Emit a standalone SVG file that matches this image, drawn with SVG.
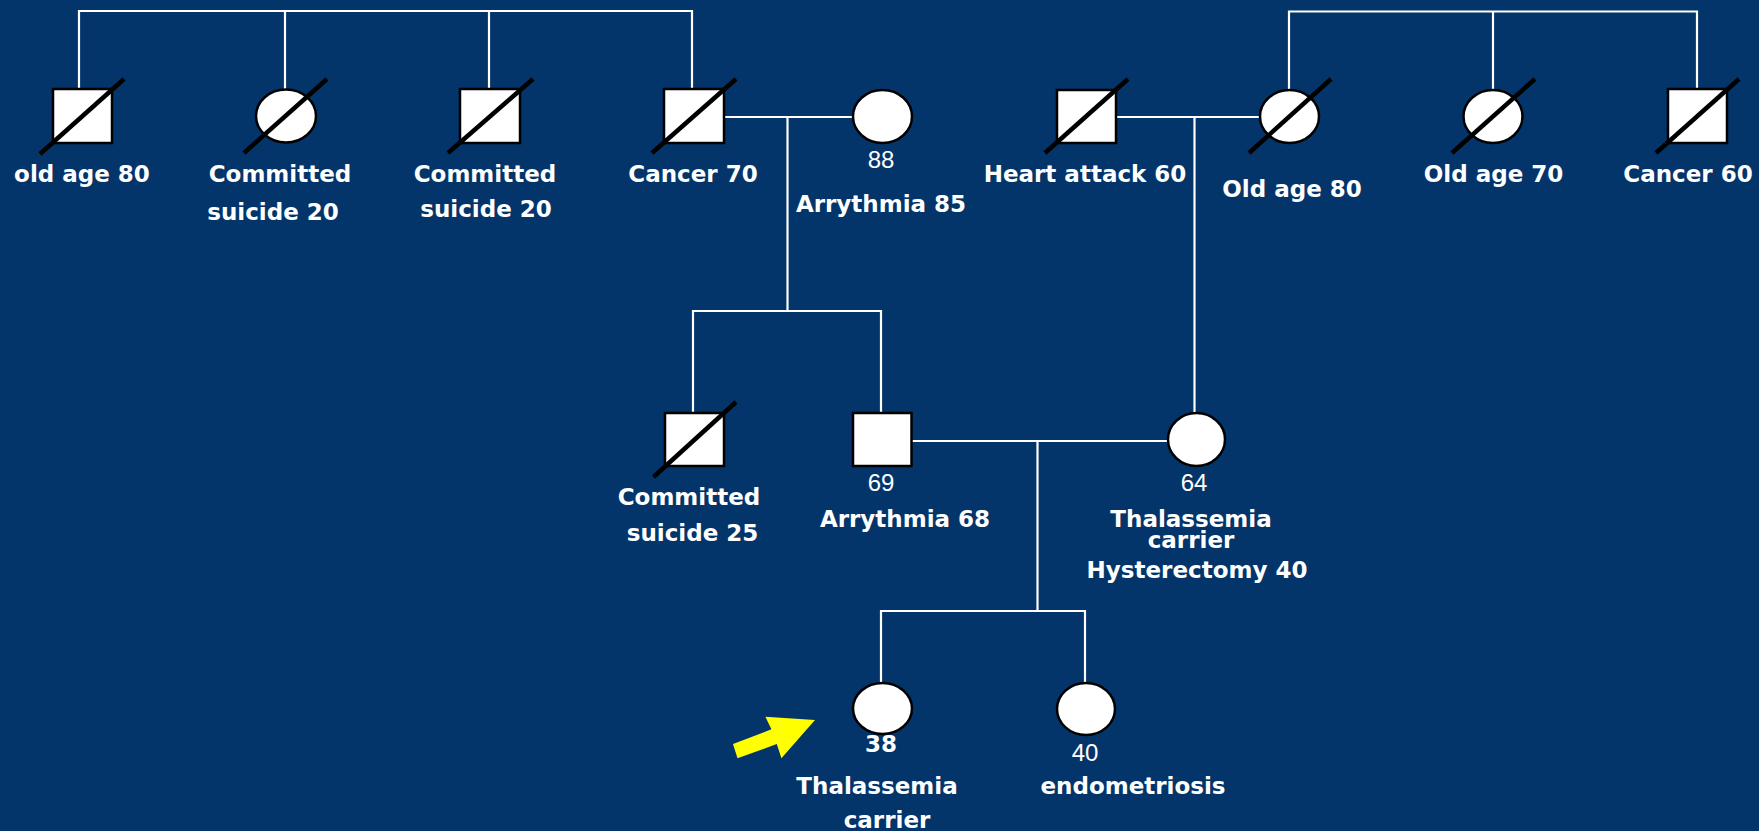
<svg xmlns="http://www.w3.org/2000/svg" width="1759" height="831" viewBox="0 0 1759 831">
  <style>
    .bg { fill: #03356a; }
    .link { stroke: #ffffff; stroke-width: 2.2; fill: none; }
    .sq { fill: #ffffff; stroke: #000000; stroke-width: 2.5; }
    .ci { fill: #ffffff; stroke: #000000; stroke-width: 2.5; }
    .dead { stroke: #000000; stroke-width: 4.5; stroke-linecap: butt; }
    .lbl { font-family: "DejaVu Sans", "Liberation Sans", sans-serif; font-weight: bold; font-size: 23px; fill: #ffffff; text-anchor: middle; }
    .age { font-family: "Liberation Sans", Arial, sans-serif; font-size: 24px; fill: #ffffff; text-anchor: middle; }
    .agebold { font-family: "DejaVu Sans", "Liberation Sans", sans-serif; font-weight: bold; font-size: 23px; fill: #ffffff; text-anchor: middle; }
  </style>

  <rect class="bg" x="0" y="0" width="1759" height="831"/>

  <!-- lines of descent and partnership -->
  <g id="connectors">
    <!-- paternal grandfather's sibship -->
    <polyline class="link" points="79,89 79,11 692,11 692,89"/>
    <line class="link" x1="285" y1="11" x2="285" y2="90"/>
    <line class="link" x1="489" y1="11" x2="489" y2="89"/>
    <!-- paternal grandparents -->
    <line class="link" x1="724" y1="117" x2="853" y2="117"/>
    <line class="link" x1="787.5" y1="117" x2="787.5" y2="311"/>
    <polyline class="link" points="693,413 693,311 881,311 881,413"/>
    <!-- maternal grandmother's sibship -->
    <polyline class="link" points="1289,90 1289,11.5 1697,11.5 1697,89"/>
    <line class="link" x1="1493" y1="11.5" x2="1493" y2="90"/>
    <!-- maternal grandparents -->
    <line class="link" x1="1116" y1="117" x2="1260" y2="117"/>
    <line class="link" x1="1194.5" y1="117" x2="1194.5" y2="413"/>
    <!-- parents -->
    <line class="link" x1="911.5" y1="441" x2="1168" y2="441"/>
    <line class="link" x1="1037.5" y1="441" x2="1037.5" y2="611"/>
    <polyline class="link" points="881,683 881,611 1085,611 1085,683"/>
  </g>

  <!-- generation I -->
  <g id="n-old-age-80">
    <rect class="sq" x="53" y="89" width="59" height="54"/>
    <line class="dead" x1="40" y1="154" x2="124" y2="79"/>
    <text class="lbl" x="82" y="182">old age 80</text>
  </g>
  <g id="n-suicide-20-a">
    <ellipse class="ci" cx="286" cy="116" rx="30" ry="26.5"/>
    <line class="dead" x1="244" y1="153" x2="327" y2="79"/>
    <text class="lbl" x="280" y="182">Committed</text>
    <text class="lbl" x="273" y="220">suicide 20</text>
  </g>
  <g id="n-suicide-20-b">
    <rect class="sq" x="460" y="89" width="60" height="54"/>
    <line class="dead" x1="448" y1="153" x2="533" y2="79"/>
    <text class="lbl" x="485" y="182">Committed</text>
    <text class="lbl" x="486" y="217">suicide 20</text>
  </g>
  <g id="n-cancer-70">
    <rect class="sq" x="664" y="89" width="60" height="54"/>
    <line class="dead" x1="652" y1="153" x2="736" y2="79"/>
    <text class="lbl" x="693" y="182">Cancer 70</text>
  </g>
  <g id="n-grandmother-88">
    <ellipse class="ci" cx="882.5" cy="116.5" rx="29.5" ry="26.5"/>
    <text class="age" x="881" y="168">88</text>
    <text class="lbl" x="881" y="212">Arrythmia 85</text>
  </g>
  <g id="n-heart-attack-60">
    <rect class="sq" x="1057" y="90" width="59" height="53"/>
    <line class="dead" x1="1045" y1="153" x2="1128" y2="79"/>
    <text class="lbl" x="1085" y="182">Heart attack 60</text>
  </g>
  <g id="n-old-age-80-f">
    <ellipse class="ci" cx="1289.5" cy="116.5" rx="29.5" ry="26.5"/>
    <line class="dead" x1="1249" y1="153" x2="1331" y2="79"/>
    <text class="lbl" x="1292" y="197">Old age 80</text>
  </g>
  <g id="n-old-age-70">
    <ellipse class="ci" cx="1493" cy="116.5" rx="29.5" ry="26.5"/>
    <line class="dead" x1="1452" y1="153" x2="1535" y2="79"/>
    <text class="lbl" x="1493.5" y="182">Old age 70</text>
  </g>
  <g id="n-cancer-60">
    <rect class="sq" x="1668" y="89" width="59" height="54"/>
    <line class="dead" x1="1656" y1="153" x2="1739" y2="79"/>
    <text class="lbl" x="1688" y="182">Cancer 60</text>
  </g>

  <!-- generation II -->
  <g id="n-suicide-25">
    <rect class="sq" x="665" y="413" width="59" height="53"/>
    <line class="dead" x1="653.5" y1="477" x2="736" y2="402"/>
    <text class="lbl" x="689" y="505">Committed</text>
    <text class="lbl" x="692.5" y="541">suicide 25</text>
  </g>
  <g id="n-father-69">
    <rect class="sq" x="853" y="413" width="58.5" height="53"/>
    <text class="age" x="881" y="491">69</text>
    <text class="lbl" x="905" y="527">Arrythmia 68</text>
  </g>
  <g id="n-mother-64">
    <ellipse class="ci" cx="1196.5" cy="439.5" rx="28.5" ry="26.5"/>
    <text class="age" x="1194" y="491">64</text>
    <text class="lbl" x="1191" y="527">Thalassemia</text>
    <text class="lbl" x="1191" y="548">carrier</text>
    <text class="lbl" x="1197" y="578">Hysterectomy 40</text>
  </g>

  <!-- generation III -->
  <g id="n-proband-38">
    <ellipse class="ci" cx="882.5" cy="708.5" rx="29.5" ry="25.5"/>
    <text class="agebold" x="881" y="751.5">38</text>
    <text class="lbl" x="877" y="794">Thalassemia</text>
    <text class="lbl" x="887" y="828">carrier</text>
  </g>
  <g id="n-sister-40">
    <ellipse class="ci" cx="1086" cy="709" rx="29" ry="26"/>
    <text class="age" x="1085" y="761">40</text>
    <text class="lbl" x="1133" y="794">endometriosis</text>
  </g>

  <!-- proband pointer -->
  <g id="proband-arrow">
    <polygon fill="#ffff00" points="733,744 771.4,729.3 765.4,716.7 815,720 781.4,758.3 776.8,744 737.5,758.3"/>
  </g>
</svg>
